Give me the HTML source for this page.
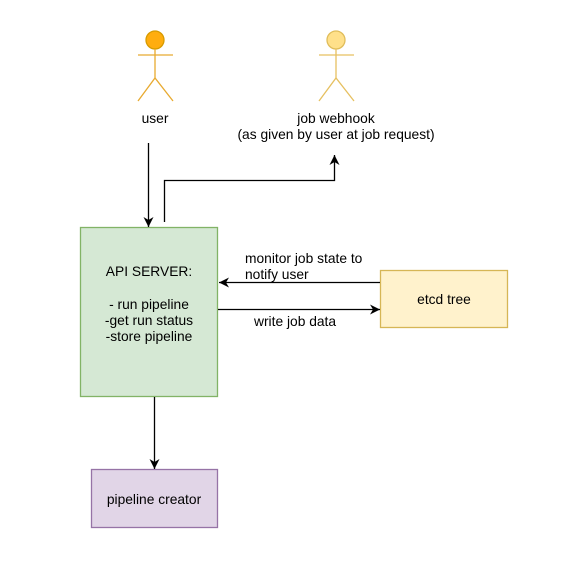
<!DOCTYPE html>
<html><head><meta charset="utf-8"><style>
html,body{margin:0;padding:0;background:#fff;}
svg{display:block;}
text{font-family:"Liberation Sans",Arial,sans-serif;font-size:13.8px;fill:#000;}
</style></head><body>
<svg width="564" height="581" viewBox="0 0 564 581" xmlns="http://www.w3.org/2000/svg">
<defs>
<marker id="a" markerWidth="14" markerHeight="14" refX="11" refY="6" orient="auto" markerUnits="userSpaceOnUse">
<path d="M1,1 L11,6 L1,11 L4,6 Z" fill="#000"/>
</marker>
</defs>
<!-- user actor -->
<g stroke-width="1.3" fill="none">
<circle cx="155" cy="40" r="9" fill="#ffad0f" stroke="#d79b00"/>
<line x1="155" y1="49" x2="155" y2="78" stroke="#e8aa30"/>
<line x1="138" y1="55" x2="173" y2="55" stroke="#e8aa30"/>
<path d="M138,101 L155,78 L173,101" stroke="#e8aa30"/>
</g>
<text x="155" y="123" text-anchor="middle">user</text>
<!-- webhook actor -->
<g stroke="#e6c060" stroke-width="1.3" fill="none">
<circle cx="336" cy="40" r="9" fill="#ffe08a" stroke="#e0bd5a"/>
<line x1="336" y1="49" x2="336" y2="78"/>
<line x1="319" y1="55" x2="354" y2="55"/>
<path d="M319,101 L336,78 L354,101"/>
</g>
<text x="336" y="123" text-anchor="middle">job webhook</text>
<text x="336" y="139" text-anchor="middle">(as given by user at job request)</text>
<!-- boxes -->
<rect x="80.5" y="227.5" width="137" height="169" fill="#d5e8d4" stroke="#82b366" stroke-width="1.3"/>
<text x="149" y="276" text-anchor="middle">API SERVER:</text>
<text x="149" y="309" text-anchor="middle">- run pipeline</text>
<text x="149" y="325" text-anchor="middle">-get run status</text>
<text x="149" y="341" text-anchor="middle">-store pipeline</text>
<rect x="380.5" y="270.5" width="127" height="57" fill="#fff2cc" stroke="#d6b656" stroke-width="1.3"/>
<text x="444" y="304" text-anchor="middle">etcd tree</text>
<rect x="91.5" y="469.5" width="126" height="58" fill="#e1d5e7" stroke="#9673a6" stroke-width="1.3"/>
<text x="154" y="504" text-anchor="middle">pipeline creator</text>
<!-- connectors -->
<g stroke="#000" stroke-width="1.3" fill="none">
<line x1="148.5" y1="143" x2="148.5" y2="227" marker-end="url(#a)"/>
<path d="M164.5,222 L164.5,180.5 L334.5,180.5 L334.5,155" marker-end="url(#a)"/>
<line x1="380" y1="282.5" x2="219" y2="282.5" marker-end="url(#a)"/>
<line x1="218" y1="309.5" x2="380" y2="309.5" marker-end="url(#a)"/>
<line x1="154.5" y1="397" x2="154.5" y2="469" marker-end="url(#a)"/>
</g>
<text x="245" y="263">monitor job state to</text>
<text x="245" y="279">notify user</text>
<text x="254" y="326">write job data</text>
</svg>
</body></html>
